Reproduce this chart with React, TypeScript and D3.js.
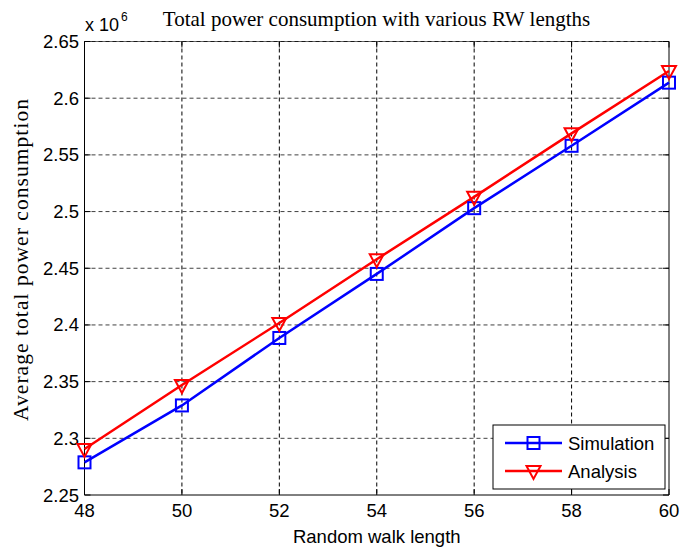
import React from "react";
import * as d3 from "d3";

const xValues = [48, 50, 52, 54, 56, 58, 60];
const simulation = [2.2788, 2.329, 2.3885, 2.445, 2.503, 2.558, 2.6137];
const analysis = [2.2906, 2.347, 2.4017, 2.458, 2.513, 2.569, 2.624];
const xTicks = [48, 50, 52, 54, 56, 58, 60];
const yTicks = [2.25, 2.3, 2.35, 2.4, 2.45, 2.5, 2.55, 2.6, 2.65];

const W = 683, H = 550;
const L = 84.5, R = 669, T = 41.5, B = 495;

export default function App() {
  const x = d3.scaleLinear().domain([48, 60]).range([L, R]);
  const y = d3.scaleLinear().domain([2.25, 2.65]).range([B, T]);
  const line = d3.line<number>().x((_, i) => x(xValues[i])).y((d) => y(d));
  const sans = "'Liberation Sans', Arial, sans-serif";
  const serif = "'Liberation Serif', 'Times New Roman', serif";
  const sq = (cx: number, cy: number, k: string) => (
    <rect key={k} x={cx - 6} y={cy - 6} width={12} height={12} fill="none" stroke="#0000ff" strokeWidth={2} />
  );
  const tri = (cx: number, cy: number, k: string) => (
    <path key={k} d={`M${cx - 7},${cy - 5} L${cx + 7},${cy - 5} L${cx},${cy + 8} Z`} fill="none" stroke="#ff0000" strokeWidth={2} />
  );
  return (
    <svg width={W} height={H} style={{ position: "absolute", left: 0, top: 0, background: "#fff" }}>
      <rect x={0} y={0} width={W} height={H} fill="#fff" />
      {/* grid */}
      {xTicks.slice(1, -1).map((t) => (
        <line key={"gx" + t} x1={x(t)} x2={x(t)} y1={T} y2={B} stroke="#000" strokeWidth={1} strokeDasharray="4,3" />
      ))}
      {yTicks.slice(1, -1).map((t) => (
        <line key={"gy" + t} x1={L} x2={R} y1={y(t)} y2={y(t)} stroke="#000" strokeWidth={1} strokeDasharray="4,3" strokeOpacity={0.75} />
      ))}
      <line x1={L} x2={R} y1={T} y2={T} stroke="#000" strokeWidth={1} strokeDasharray="4,3" strokeOpacity={0.75} />
      {/* ticks */}
      {xTicks.map((t) => (
        <g key={"tx" + t}>
          <line x1={x(t)} x2={x(t)} y1={B} y2={B - 6} stroke="#000" />
          <line x1={x(t)} x2={x(t)} y1={T} y2={T + 6} stroke="#000" />
          <text x={x(t)} y={B + 22} textAnchor="middle" fontFamily={sans} fontSize={18.5} fill="#000">{t}</text>
        </g>
      ))}
      {yTicks.map((t) => (
        <g key={"ty" + t}>
          <line x1={L} x2={L + 6} y1={y(t)} y2={y(t)} stroke="#000" />
          <line x1={R} x2={R - 6} y1={y(t)} y2={y(t)} stroke="#000" />
          <text x={L - 5.5} y={y(t) + 6.5} textAnchor="end" fontFamily={sans} fontSize={18.5} fill="#000">{String(t)}</text>
        </g>
      ))}
      {/* box */}
      <line x1={L} x2={L} y1={T} y2={B} stroke="#000" />
      <line x1={R} x2={R} y1={T} y2={B} stroke="#000" />
      <line x1={L} x2={R} y1={B} y2={B} stroke="#000" />
      <line x1={L} x2={R} y1={T} y2={T} stroke="#000" strokeWidth={1} strokeOpacity={0.6} />
      {/* series */}
      <path d={line(simulation) || ""} fill="none" stroke="#0000ff" strokeWidth={2.5} />
      <path d={line(analysis) || ""} fill="none" stroke="#ff0000" strokeWidth={2.5} />
      {simulation.map((v, i) => sq(x(xValues[i]), y(v), "s" + i))}
      {analysis.map((v, i) => tri(x(xValues[i]), y(v), "a" + i))}
      {/* exponent */}
      <text x={85} y={31} fontFamily={sans} fontSize={18} fill="#000">x 10</text>
      <text x={121} y={20.5} fontFamily={sans} fontSize={12} fill="#000">6</text>
      {/* title */}
      <text x={376.5} y={26} textAnchor="middle" fontFamily={serif} fontSize={21} fill="#000">
        Total power consumption with various RW lengths
      </text>
      {/* axis labels */}
      <text x={(L + R) / 2} y={543} textAnchor="middle" fontFamily={sans} fontSize={18.5} fill="#000">Random walk length</text>
      <text transform={`translate(28, 260) rotate(-90)`} textAnchor="middle" fontFamily={serif} fontSize={21.5}
        textLength={322} lengthAdjust="spacing" fill="#000">
        Average total power consumption
      </text>
      {/* legend */}
      <rect x={493} y={425} width={172} height={64} fill="#fff" stroke="#000" strokeWidth={1} />
      <line x1={505} x2={562} y1={443} y2={443} stroke="#0000ff" strokeWidth={2.5} />
      {sq(533.5, 443, "ls")}
      <text x={568} y={449.5} fontFamily={sans} fontSize={18.5} fill="#000">Simulation</text>
      <line x1={505} x2={562} y1={471} y2={471} stroke="#ff0000" strokeWidth={2.5} />
      {tri(533.5, 471, "la")}
      <text x={568} y={477.5} fontFamily={sans} fontSize={18.5} fill="#000">Analysis</text>
    </svg>
  );
}
